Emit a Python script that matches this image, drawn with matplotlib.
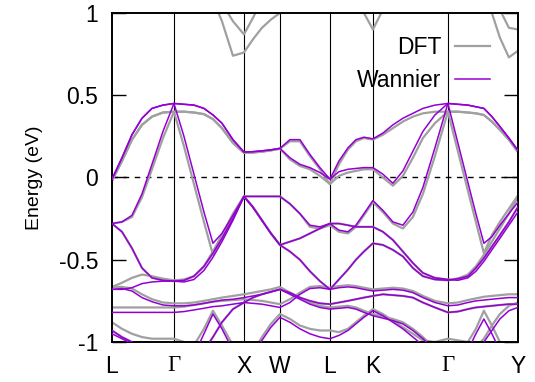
import matplotlib
matplotlib.use("Agg")
import matplotlib.pyplot as plt

# k-path coordinate of every sample, and the high-symmetry points
kpath = [0.00, 0.10, 0.20, 0.30, 0.40, 0.51, 0.62,
         0.72, 0.82, 0.92, 1.01, 1.10, 1.21, 1.32,
         1.41, 1.50, 1.59, 1.68,
         1.78, 1.88, 1.98, 2.08, 2.18,
         2.27, 2.36, 2.44, 2.52, 2.61,
         2.71, 2.81, 2.91, 3.01, 3.11, 3.23, 3.36,
         3.46, 3.56, 3.64, 3.72, 3.80, 3.88, 3.97, 4.06]
sym_k = [0.00, 0.62, 1.32, 1.68, 2.18, 2.61, 3.36, 4.06]
sym_labels = ["L", "Γ", "X", "W", "L", "K", "Γ", "Y"]

# Wannier-interpolated bands (eV, relative to E_F)
wan_b1 = [-0.01, 0.12, 0.26, 0.36, 0.42, 0.44, 0.45,
          0.445, 0.44, 0.42, 0.38, 0.33, 0.23, 0.155,
          0.157, 0.162, 0.168, 0.177,
          0.23, 0.23, 0.14, 0.06, -0.01,
          0.10, 0.18, 0.23, 0.245, 0.235,
          0.27, 0.32, 0.36, 0.39, 0.42, 0.44, 0.45,
          0.445, 0.44, 0.43, 0.42, 0.37, 0.31, 0.24, 0.165]
wan_b2 = [-0.01, 0.12, 0.26, 0.36, 0.42, 0.44, 0.45,
          0.445, 0.44, 0.42, 0.38, 0.33, 0.23, 0.155,
          0.157, 0.162, 0.168, 0.177,
          0.12, 0.08, 0.06, 0.03, -0.01,
          0.035, 0.05, 0.055, 0.06, 0.06,
          0.02, -0.035, 0.04, 0.16, 0.28, 0.38, 0.45,
          0.21, -0.03, -0.22, -0.40, -0.36, -0.29, -0.22, -0.15]
wan_b3 = [-0.28, -0.27, -0.23, -0.10, 0.08, 0.28, 0.45,
          0.25, 0.02, -0.21, -0.40, -0.34, -0.23, -0.115,
          -0.115, -0.115, -0.115, -0.115,
          -0.16, -0.22, -0.29, -0.30, -0.28,
          -0.32, -0.33, -0.29, -0.22, -0.14,
          -0.20, -0.27, -0.29, -0.21, -0.06, 0.18, 0.45,
          0.445, 0.44, 0.43, 0.42, 0.37, 0.31, 0.24, 0.165]
wan_b4 = [-0.28, -0.33, -0.43, -0.55, -0.61, -0.625, -0.63,
          -0.625, -0.60, -0.54, -0.46, -0.37, -0.25, -0.115,
          -0.18, -0.26, -0.34, -0.41,
          -0.45, -0.50, -0.57, -0.63, -0.68,
          -0.62, -0.56, -0.50, -0.45, -0.40,
          -0.41, -0.44, -0.48, -0.55, -0.60, -0.62, -0.625,
          -0.615, -0.60, -0.55, -0.49, -0.42, -0.35, -0.27, -0.18]
wan_b5 = [-0.68, -0.68, -0.67, -0.645, -0.635, -0.63, -0.63,
          -0.635, -0.62, -0.565, -0.485, -0.39, -0.26, -0.115,
          -0.18, -0.26, -0.34, -0.41,
          -0.39, -0.37, -0.34, -0.31, -0.28,
          -0.28, -0.29, -0.30, -0.30, -0.30,
          -0.33, -0.38, -0.45, -0.52, -0.58, -0.61, -0.62,
          -0.625, -0.61, -0.57, -0.51, -0.44, -0.37, -0.29, -0.21]
wan_b6 = [-0.68, -0.675, -0.69, -0.73, -0.755, -0.775, -0.78,
          -0.78, -0.775, -0.765, -0.755, -0.745, -0.74, -0.73,
          -0.72, -0.71, -0.695, -0.68,
          -0.71, -0.74, -0.77, -0.79, -0.80,
          -0.795, -0.79, -0.80, -0.82, -0.84,
          -0.855, -0.87, -0.89, -0.93, -0.98, -1.05, -1.10,
          -1.10, -1.08, -1.05, -1.00, -0.93, -0.86, -0.81, -0.79]
wan_b7 = [-0.82, -0.82, -0.82, -0.82, -0.82, -0.82, -0.82,
          -0.815, -0.805, -0.795, -0.785, -0.78, -0.77, -0.76,
          -0.765, -0.77, -0.78, -0.79,
          -0.76, -0.71, -0.675, -0.67, -0.68,
          -0.67, -0.665, -0.67, -0.68, -0.69,
          -0.685, -0.68, -0.685, -0.70, -0.73, -0.76, -0.78,
          -0.775, -0.76, -0.75, -0.745, -0.74, -0.735, -0.73, -0.73]
wan_b8 = [-0.93, -0.97, -1.00, -1.03, -1.05, -1.06, -1.06,
          -1.08, -1.08, -1.05, -0.97, -0.88, -0.80, -0.76,
          -0.73, -0.71, -0.695, -0.68,
          -0.70, -0.73, -0.75, -0.765, -0.77,
          -0.76, -0.75, -0.74, -0.73, -0.72,
          -0.71, -0.715, -0.72, -0.73, -0.76, -0.79, -0.82,
          -0.815, -0.80, -0.79, -0.785, -0.78, -0.775, -0.77, -0.77]
wan_b9 = [-0.95, -0.98, -1.01, -1.04, -1.06, -1.08, -1.08,
          -1.10, -1.08, -0.95, -0.83, -0.92, -1.05, -1.10,
          -1.08, -0.99, -0.91, -0.85,
          -0.88, -0.92, -0.95, -0.97, -0.98,
          -0.96, -0.93, -0.89, -0.85, -0.81,
          -0.84, -0.88, -0.92, -0.97, -1.02, -1.08, -1.10,
          -1.10, -1.05, -0.95, -0.86, -0.95, -1.05, -1.10, -1.10]

# DFT bands (where they coincide with Wannier the same list is reused)
dft_b1 = [-0.02, 0.10, 0.23, 0.32, 0.37, 0.395, 0.40,
          0.40, 0.395, 0.385, 0.355, 0.30, 0.21, 0.15,
          0.152, 0.157, 0.165, 0.175,
          0.22, 0.22, 0.13, 0.05, -0.04,
          0.08, 0.17, 0.22, 0.24, 0.23,
          0.26, 0.30, 0.34, 0.37, 0.39, 0.40, 0.40,
          0.40, 0.395, 0.39, 0.38, 0.34, 0.29, 0.23, 0.155]
dft_b2 = [-0.02, 0.10, 0.23, 0.32, 0.37, 0.395, 0.40,
          0.40, 0.395, 0.385, 0.355, 0.30, 0.21, 0.15,
          0.152, 0.157, 0.165, 0.175,
          0.11, 0.07, 0.05, 0.01, -0.04,
          0.01, 0.03, 0.04, 0.05, 0.05,
          0.00, -0.05, 0.01, 0.12, 0.24, 0.33, 0.40,
          0.16, -0.08, -0.27, -0.46, -0.35, -0.27, -0.19, -0.11]
dft_b3 = [-0.28, -0.27, -0.24, -0.12, 0.05, 0.24, 0.40,
          0.19, -0.04, -0.27, -0.47, -0.35, -0.22, -0.115,
          -0.115, -0.115, -0.115, -0.115,
          -0.16, -0.22, -0.30, -0.31, -0.29,
          -0.33, -0.34, -0.30, -0.23, -0.15,
          -0.21, -0.28, -0.31, -0.24, -0.10, 0.13, 0.40,
          0.40, 0.395, 0.39, 0.38, 0.34, 0.29, 0.23, 0.155]
dft_b5 = [-0.665, -0.64, -0.61, -0.59, -0.60, -0.615, -0.625,
          -0.62, -0.60, -0.54, -0.45, -0.35, -0.23, -0.115,
          -0.18, -0.26, -0.34, -0.41,
          -0.39, -0.37, -0.34, -0.31, -0.28,
          -0.28, -0.29, -0.30, -0.30, -0.30,
          -0.33, -0.38, -0.45, -0.52, -0.58, -0.61, -0.62,
          -0.615, -0.59, -0.54, -0.47, -0.39, -0.31, -0.22, -0.12]
dft_b6 = [-0.665, -0.665, -0.675, -0.71, -0.74, -0.76, -0.765,
          -0.765, -0.76, -0.75, -0.74, -0.73, -0.72, -0.71,
          -0.70, -0.69, -0.68, -0.665,
          -0.70, -0.73, -0.76, -0.78, -0.79,
          -0.785, -0.78, -0.79, -0.81, -0.83,
          -0.845, -0.86, -0.88, -0.92, -0.97, -1.04, -1.10,
          -1.10, -1.07, -1.03, -0.98, -0.90, -0.83, -0.78, -0.76]
dft_b7 = [-0.79, -0.79, -0.79, -0.79, -0.79, -0.79, -0.79,
          -0.785, -0.775, -0.765, -0.755, -0.75, -0.745, -0.74,
          -0.745, -0.75, -0.76, -0.77,
          -0.74, -0.70, -0.665, -0.66, -0.67,
          -0.66, -0.655, -0.66, -0.67, -0.68,
          -0.675, -0.67, -0.675, -0.69, -0.72, -0.75, -0.765,
          -0.76, -0.745, -0.735, -0.725, -0.72, -0.715, -0.71, -0.71]
dft_b9 = [-0.88, -0.92, -0.95, -0.97, -0.98, -0.98, -0.98,
          -1.00, -1.02, -0.92, -0.81, -0.90, -1.02, -1.08,
          -1.06, -0.97, -0.89, -0.83,
          -0.86, -0.90, -0.92, -0.93, -0.93,
          -0.94, -0.92, -0.88, -0.84, -0.80,
          -0.83, -0.87, -0.91, -0.95, -0.99, -1.00, -0.98,
          -0.99, -1.00, -0.92, -0.81, -0.90, -1.00, -1.05, -1.08]
# conduction bands only present in the DFT run
dft_c1 = [1.30, 1.30, 1.30, 1.30, 1.30, 1.30, 1.30,
          1.30, 1.25, 1.18, 1.08, 0.95, 0.74, 0.76,
          0.84, 0.91, 0.96, 1.00,
          1.05, 1.10, 1.15, 1.20, 1.20,
          1.20, 1.15, 1.10, 1.00, 0.90,
          1.02, 1.15, 1.30, 1.30, 1.30, 1.30, 1.30,
          1.30, 1.30, 1.25, 1.15, 1.00, 0.85, 0.73, 0.77]
dft_c2 = [1.40, 1.40, 1.40, 1.40, 1.40, 1.40, 1.40,
          1.40, 1.40, 1.35, 1.20, 1.06, 0.95, 0.87,
          0.97, 1.08, 1.20, 1.30,
          1.40, 1.40, 1.40, 1.40, 1.40,
          1.40, 1.40, 1.40, 1.40, 1.40,
          1.40, 1.40, 1.40, 1.40, 1.40, 1.40, 1.40,
          1.40, 1.40, 1.35, 1.25, 1.15, 1.02, 0.91, 0.90]

wannier_bands = [wan_b1, wan_b2, wan_b3, wan_b4, wan_b5,
                 wan_b6, wan_b7, wan_b8, wan_b9]
dft_bands = [dft_b1, dft_b2, dft_b3, wan_b4, dft_b5, dft_b6, dft_b7,
             wan_b8, dft_b9, dft_c1, dft_c2]

plt.rcParams['font.family'] = ['Liberation Sans', 'DejaVu Sans']

fig = plt.figure(figsize=(5.35, 3.82), dpi=100)
ax = fig.add_axes([0.2093, 0.1047, 0.7587, 0.8613])

for i, band in enumerate(dft_bands):
    ax.plot(kpath, band, color='#a0a0a0', lw=1.6,
            label='DFT' if i == 0 else None, zorder=2)
for i, band in enumerate(wannier_bands):
    ax.plot(kpath, band, color='#9400d3', lw=1.1,
            label='Wannier' if i == 0 else None, zorder=3)

for k in sym_k[1:-1]:
    ax.axvline(k, color='black', lw=0.8, zorder=1)
ax.axhline(0, color='black', lw=1.0, ls=(0, (4, 4)), zorder=1)

ax.set_xlim(sym_k[0], sym_k[-1])
ax.set_ylim(-1, 1)
ax.set_xticks(sym_k)
ax.set_xticklabels(sym_labels)
for lbl in ax.get_xticklabels():
    if lbl.get_text() == "Γ":
        lbl.set_family(['Liberation Serif', 'DejaVu Serif'])
ax.set_yticks([-1, -0.5, 0, 0.5, 1])
ax.set_yticklabels(['-1', '-0.5', '0', '0.5', '1'])
ax.tick_params(axis='y', direction='in', length=10, width=1,
               right=True, labelsize=16.5, pad=10)
ax.tick_params(axis='x', length=0, labelsize=16.5, pad=9)
ax.set_ylabel('Energy (eV)', fontsize=14, labelpad=11)
for sp in ax.spines.values():
    sp.set_linewidth(1.4)

ax.legend(loc='upper right', bbox_to_anchor=(0.931, 0.93), frameon=False,
          markerfirst=False, fontsize=16.5, handlelength=1.5,
          handletextpad=0.6, labelspacing=0.45, borderpad=0,
          borderaxespad=0)

fig.savefig('out.png', dpi=100)
